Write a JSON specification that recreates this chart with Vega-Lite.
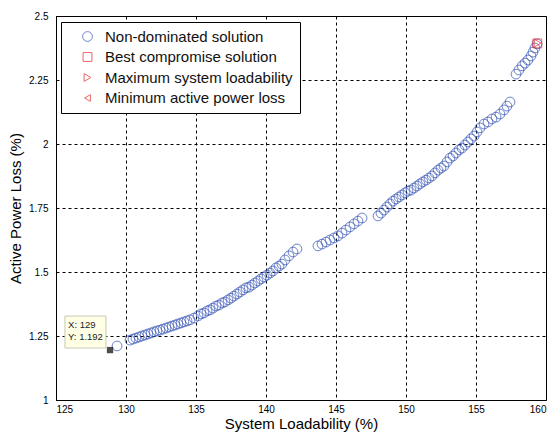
{
  "$schema": "https://vega.github.io/schema/vega-lite/v6.json",
  "autosize": "none",
  "width": 490,
  "height": 384,
  "padding": {"left": 56, "top": 16, "right": 3, "bottom": 33},
  "background": "white",
  "config": {
    "font": "Liberation Sans",
    "view": {"stroke": "#000", "strokeWidth": 1},
    "axis": {
      "gridColor": "#000", "gridDash": [3, 3], "gridOpacity": 1, "gridWidth": 1,
      "domainColor": "#000", "ticks": false,
      "labelFont": "Liberation Sans", "labelFontSize": 10, "labelColor": "#000",
      "titleFont": "Liberation Sans", "titleFontSize": 15, "titleFontWeight": "normal", "titleColor": "#000"
    }
  },
  "datasets": {
    "pts": [
      {"x": 129.36, "y": 1.211, "type": "Non-dominated solution"},
      {"x": 130.29, "y": 1.234, "type": "Non-dominated solution"},
      {"x": 130.5, "y": 1.238, "type": "Non-dominated solution"},
      {"x": 130.71, "y": 1.242, "type": "Non-dominated solution"},
      {"x": 130.93, "y": 1.246, "type": "Non-dominated solution"},
      {"x": 131.14, "y": 1.25, "type": "Non-dominated solution"},
      {"x": 131.36, "y": 1.254, "type": "Non-dominated solution"},
      {"x": 131.57, "y": 1.258, "type": "Non-dominated solution"},
      {"x": 131.79, "y": 1.262, "type": "Non-dominated solution"},
      {"x": 132.0, "y": 1.266, "type": "Non-dominated solution"},
      {"x": 132.21, "y": 1.27, "type": "Non-dominated solution"},
      {"x": 132.43, "y": 1.273, "type": "Non-dominated solution"},
      {"x": 132.64, "y": 1.277, "type": "Non-dominated solution"},
      {"x": 132.86, "y": 1.281, "type": "Non-dominated solution"},
      {"x": 133.07, "y": 1.285, "type": "Non-dominated solution"},
      {"x": 133.29, "y": 1.289, "type": "Non-dominated solution"},
      {"x": 133.5, "y": 1.293, "type": "Non-dominated solution"},
      {"x": 133.71, "y": 1.297, "type": "Non-dominated solution"},
      {"x": 133.93, "y": 1.301, "type": "Non-dominated solution"},
      {"x": 134.14, "y": 1.305, "type": "Non-dominated solution"},
      {"x": 134.36, "y": 1.309, "type": "Non-dominated solution"},
      {"x": 134.57, "y": 1.313, "type": "Non-dominated solution"},
      {"x": 134.86, "y": 1.32, "type": "Non-dominated solution"},
      {"x": 135.14, "y": 1.328, "type": "Non-dominated solution"},
      {"x": 135.36, "y": 1.336, "type": "Non-dominated solution"},
      {"x": 135.57, "y": 1.34, "type": "Non-dominated solution"},
      {"x": 135.79, "y": 1.348, "type": "Non-dominated solution"},
      {"x": 136.0, "y": 1.352, "type": "Non-dominated solution"},
      {"x": 136.21, "y": 1.359, "type": "Non-dominated solution"},
      {"x": 136.43, "y": 1.367, "type": "Non-dominated solution"},
      {"x": 136.64, "y": 1.371, "type": "Non-dominated solution"},
      {"x": 136.86, "y": 1.379, "type": "Non-dominated solution"},
      {"x": 137.07, "y": 1.383, "type": "Non-dominated solution"},
      {"x": 137.29, "y": 1.391, "type": "Non-dominated solution"},
      {"x": 137.5, "y": 1.398, "type": "Non-dominated solution"},
      {"x": 137.71, "y": 1.406, "type": "Non-dominated solution"},
      {"x": 137.93, "y": 1.414, "type": "Non-dominated solution"},
      {"x": 138.14, "y": 1.422, "type": "Non-dominated solution"},
      {"x": 138.36, "y": 1.43, "type": "Non-dominated solution"},
      {"x": 138.57, "y": 1.438, "type": "Non-dominated solution"},
      {"x": 138.79, "y": 1.441, "type": "Non-dominated solution"},
      {"x": 139.0, "y": 1.449, "type": "Non-dominated solution"},
      {"x": 139.21, "y": 1.457, "type": "Non-dominated solution"},
      {"x": 139.43, "y": 1.465, "type": "Non-dominated solution"},
      {"x": 139.64, "y": 1.473, "type": "Non-dominated solution"},
      {"x": 139.86, "y": 1.48, "type": "Non-dominated solution"},
      {"x": 140.07, "y": 1.488, "type": "Non-dominated solution"},
      {"x": 140.29, "y": 1.496, "type": "Non-dominated solution"},
      {"x": 140.5, "y": 1.504, "type": "Non-dominated solution"},
      {"x": 140.71, "y": 1.516, "type": "Non-dominated solution"},
      {"x": 140.93, "y": 1.523, "type": "Non-dominated solution"},
      {"x": 141.14, "y": 1.531, "type": "Non-dominated solution"},
      {"x": 141.36, "y": 1.547, "type": "Non-dominated solution"},
      {"x": 141.64, "y": 1.563, "type": "Non-dominated solution"},
      {"x": 141.93, "y": 1.578, "type": "Non-dominated solution"},
      {"x": 142.21, "y": 1.59, "type": "Non-dominated solution"},
      {"x": 143.71, "y": 1.602, "type": "Non-dominated solution"},
      {"x": 144.0, "y": 1.609, "type": "Non-dominated solution"},
      {"x": 144.29, "y": 1.617, "type": "Non-dominated solution"},
      {"x": 144.57, "y": 1.625, "type": "Non-dominated solution"},
      {"x": 144.86, "y": 1.633, "type": "Non-dominated solution"},
      {"x": 145.14, "y": 1.641, "type": "Non-dominated solution"},
      {"x": 145.43, "y": 1.652, "type": "Non-dominated solution"},
      {"x": 145.71, "y": 1.664, "type": "Non-dominated solution"},
      {"x": 146.0, "y": 1.676, "type": "Non-dominated solution"},
      {"x": 146.29, "y": 1.688, "type": "Non-dominated solution"},
      {"x": 146.57, "y": 1.699, "type": "Non-dominated solution"},
      {"x": 146.86, "y": 1.711, "type": "Non-dominated solution"},
      {"x": 148.0, "y": 1.719, "type": "Non-dominated solution"},
      {"x": 148.21, "y": 1.73, "type": "Non-dominated solution"},
      {"x": 148.43, "y": 1.742, "type": "Non-dominated solution"},
      {"x": 148.64, "y": 1.754, "type": "Non-dominated solution"},
      {"x": 148.86, "y": 1.766, "type": "Non-dominated solution"},
      {"x": 149.07, "y": 1.777, "type": "Non-dominated solution"},
      {"x": 149.29, "y": 1.785, "type": "Non-dominated solution"},
      {"x": 149.5, "y": 1.793, "type": "Non-dominated solution"},
      {"x": 149.71, "y": 1.801, "type": "Non-dominated solution"},
      {"x": 149.93, "y": 1.809, "type": "Non-dominated solution"},
      {"x": 150.14, "y": 1.816, "type": "Non-dominated solution"},
      {"x": 150.36, "y": 1.82, "type": "Non-dominated solution"},
      {"x": 150.57, "y": 1.828, "type": "Non-dominated solution"},
      {"x": 150.79, "y": 1.836, "type": "Non-dominated solution"},
      {"x": 151.0, "y": 1.844, "type": "Non-dominated solution"},
      {"x": 151.21, "y": 1.852, "type": "Non-dominated solution"},
      {"x": 151.43, "y": 1.859, "type": "Non-dominated solution"},
      {"x": 151.64, "y": 1.867, "type": "Non-dominated solution"},
      {"x": 151.86, "y": 1.875, "type": "Non-dominated solution"},
      {"x": 152.07, "y": 1.887, "type": "Non-dominated solution"},
      {"x": 152.29, "y": 1.898, "type": "Non-dominated solution"},
      {"x": 152.5, "y": 1.906, "type": "Non-dominated solution"},
      {"x": 152.71, "y": 1.914, "type": "Non-dominated solution"},
      {"x": 152.93, "y": 1.93, "type": "Non-dominated solution"},
      {"x": 153.14, "y": 1.945, "type": "Non-dominated solution"},
      {"x": 153.36, "y": 1.953, "type": "Non-dominated solution"},
      {"x": 153.57, "y": 1.965, "type": "Non-dominated solution"},
      {"x": 153.79, "y": 1.977, "type": "Non-dominated solution"},
      {"x": 154.0, "y": 1.984, "type": "Non-dominated solution"},
      {"x": 154.21, "y": 1.996, "type": "Non-dominated solution"},
      {"x": 154.43, "y": 2.008, "type": "Non-dominated solution"},
      {"x": 154.64, "y": 2.02, "type": "Non-dominated solution"},
      {"x": 154.86, "y": 2.031, "type": "Non-dominated solution"},
      {"x": 155.07, "y": 2.047, "type": "Non-dominated solution"},
      {"x": 155.29, "y": 2.063, "type": "Non-dominated solution"},
      {"x": 155.57, "y": 2.078, "type": "Non-dominated solution"},
      {"x": 155.86, "y": 2.086, "type": "Non-dominated solution"},
      {"x": 156.14, "y": 2.098, "type": "Non-dominated solution"},
      {"x": 156.43, "y": 2.105, "type": "Non-dominated solution"},
      {"x": 156.71, "y": 2.117, "type": "Non-dominated solution"},
      {"x": 157.0, "y": 2.133, "type": "Non-dominated solution"},
      {"x": 157.21, "y": 2.148, "type": "Non-dominated solution"},
      {"x": 157.43, "y": 2.164, "type": "Non-dominated solution"},
      {"x": 157.86, "y": 2.273, "type": "Non-dominated solution"},
      {"x": 158.07, "y": 2.289, "type": "Non-dominated solution"},
      {"x": 158.29, "y": 2.305, "type": "Non-dominated solution"},
      {"x": 158.5, "y": 2.316, "type": "Non-dominated solution"},
      {"x": 158.71, "y": 2.328, "type": "Non-dominated solution"},
      {"x": 158.93, "y": 2.344, "type": "Non-dominated solution"},
      {"x": 159.07, "y": 2.359, "type": "Non-dominated solution"},
      {"x": 159.21, "y": 2.375, "type": "Non-dominated solution"},
      {"x": 159.36, "y": 2.391, "type": "Non-dominated solution"},
      {"x": 159.38, "y": 2.393, "type": "Best compromise solution"},
      {"x": 159.4, "y": 2.394, "type": "Maximum system loadability"}
    ],
    "tip": [
      {"x1": 125.64, "x2": 128.57, "y1": 1.328, "y2": 1.203}
    ],
    "tipPoint": [
      {"x": 128.86, "y": 1.195}
    ],
    "tipText": [
      {"x": 125.86, "y": 1.293, "label": "X: 129"},
      {"x": 125.86, "y": 1.246, "label": "Y: 1.192"}
    ]
  },
  "layer": [
    {
      "data": {"name": "pts"},
      "mark": {"type": "point", "filled": false, "strokeWidth": 1, "size": 95},
      "encoding": {
        "x": {
          "field": "x", "type": "quantitative",
          "scale": {"domain": [125, 160], "nice": false, "zero": false},
          "axis": {"values": [125, 130, 135, 140, 145, 150, 155, 160], "title": "System Loadability (%)", "labelPadding": 4, "titlePadding": 2, "labelExpr": "'' + datum.value"}
        },
        "y": {
          "field": "y", "type": "quantitative",
          "scale": {"domain": [1, 2.5], "nice": false, "zero": false},
          "axis": {"values": [1, 1.25, 1.5, 1.75, 2, 2.25, 2.5], "title": "Active Power Loss (%)", "labelExpr": "'' + datum.value", "labelPadding": 8, "titlePadding": 5}
        },
        "color": {
          "field": "type", "type": "nominal",
          "scale": {
            "domain": ["Non-dominated solution", "Best compromise solution", "Maximum system loadability", "Minimum active power loss"],
            "range": ["#2f4fb5", "#e8262e", "#e8262e", "#e8262e"]
          },
          "legend": {
            "title": null, "orient": "none", "legendX": 5, "legendY": 6,
            "fillColor": "#fff", "strokeColor": "#000", "padding": 7,
            "labelFontSize": 15, "labelFont": "Liberation Sans", "labelColor": "#111",
            "labelLimit": 400, "symbolOffset": 12, "labelOffset": 10, "rowPadding": 4.5, "symbolStrokeWidth": 1
          }
        },
        "shape": {
          "field": "type", "type": "nominal",
          "scale": {
            "domain": ["Non-dominated solution", "Best compromise solution", "Maximum system loadability", "Minimum active power loss"],
            "range": ["circle", "square", "triangle-right", "triangle-left"]
          }
        },
        "size": {
          "field": "type", "type": "nominal",
          "scale": {
            "domain": ["Non-dominated solution", "Best compromise solution", "Maximum system loadability", "Minimum active power loss"],
            "range": [95, 45, 45, 45]
          },
          "legend": null
        }
      }
    },
    {
      "data": {"name": "tip"},
      "mark": {"type": "rect", "fill": "#ffffe6", "stroke": "#c8c8b4", "strokeWidth": 1},
      "encoding": {
        "x": {"field": "x1", "type": "quantitative"},
        "x2": {"field": "x2"},
        "y": {"field": "y1", "type": "quantitative"},
        "y2": {"field": "y2"}
      }
    },
    {
      "data": {"name": "tipText"},
      "mark": {"type": "text", "align": "left", "baseline": "middle", "fontSize": 9.5, "font": "Liberation Sans", "color": "#222"},
      "encoding": {
        "x": {"field": "x", "type": "quantitative"},
        "y": {"field": "y", "type": "quantitative"},
        "text": {"field": "label"}
      }
    },
    {
      "data": {"name": "tipPoint"},
      "mark": {"type": "square", "filled": true, "color": "#000", "size": 40},
      "encoding": {
        "x": {"field": "x", "type": "quantitative"},
        "y": {"field": "y", "type": "quantitative"}
      }
    }
  ]
}
